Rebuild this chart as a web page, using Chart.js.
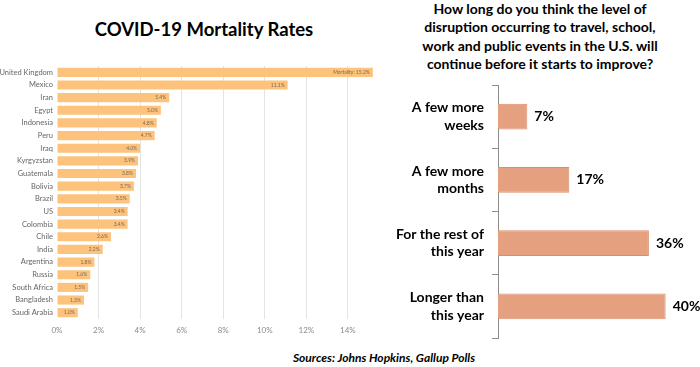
<!DOCTYPE html>
<html>
<head>
<meta charset="utf-8">
<script src="https://cdn.jsdelivr.net/npm/chart.js@4.4.1/dist/chart.umd.min.js"></script>
<style>
  body { margin: 0; background: #fff; width: 700px; height: 367px; overflow: hidden; position: relative; font-family: Lato, sans-serif; }
  .box { position: absolute; }
  #leftTitle { left: 0; top: 18px; width: 408px; text-align: center; font: bold 18.5px Lato, sans-serif; color: #000; }
  #rightTitle { left: 380px; top: 0; width: 320px; text-align: center; font: bold 14px Lato, sans-serif; line-height: 18.3px; color: #000; }
  #footer { left: 0; top: 350px; width: 768px; text-align: center; font: italic bold 12px Lato, sans-serif; color: #000; }
</style>
</head>
<body>
<div class="box" id="leftTitle">COVID-19 Mortality Rates</div>
<div class="box" id="rightTitle">How long do you think the level of<br>disruption occurring to travel, school,<br>work and public events in the U.S. will<br>continue before it starts to improve?</div>
<div class="box" style="left:0;top:60px;width:385px;height:285px"><canvas id="mortality"></canvas></div>
<div class="box" style="left:390px;top:80px;width:310px;height:265px"><canvas id="poll"></canvas></div>
<div class="box" id="footer">Sources: Johns Hopkins, Gallup Polls</div>
<script>
const countries = ["United Kingdom", "Mexico", "Iran", "Egypt", "Indonesia", "Peru", "Iraq",
  "Kyrgyzstan", "Guatemala", "Bolivia", "Brazil", "US", "Colombia", "Chile", "India",
  "Argentina", "Russia", "South Africa", "Bangladesh", "Saudi Arabia"];
const mortality = [15.2, 11.1, 5.4, 5.0, 4.8, 4.7, 4.0, 3.9, 3.8, 3.7, 3.5, 3.4, 3.4, 2.6,
  2.2, 1.8, 1.6, 1.5, 1.3, 1.0];
const mortalityTicks = [0, 2, 4, 6, 8, 10, 12, 14];

const answers = [["A few more", "weeks"], ["A few more", "months"],
  ["For the rest of", "this year"], ["Longer than", "this year"]];
const shares = [7, 17, 36, 40];

// small value labels drawn at the end of each bar
const barLabels = {
  id: "barLabels",
  afterDatasetsDraw(chart, args, opts) {
    const ctx = chart.ctx;
    const meta = chart.getDatasetMeta(0);
    ctx.save();
    ctx.font = opts.font;
    ctx.fillStyle = opts.color;
    ctx.textBaseline = "middle";
    ctx.textAlign = opts.inside ? "right" : "left";
    meta.data.forEach((bar, i) => {
      const text = opts.format(chart.data.datasets[0].data[i], i);
      const x = opts.inside ? bar.x - 3 : bar.x + 7;
      ctx.fillText(text, x, bar.y);
    });
    ctx.restore();
  },
};

new Chart(document.getElementById("mortality"), {
  type: "bar",
  data: {
    labels: countries,
    datasets: [{
      data: mortality,
      backgroundColor: "#fdc27c",
      barPercentage: 0.72,
      categoryPercentage: 1,
    }],
  },
  plugins: [barLabels],
  options: {
    indexAxis: "y",
    responsive: true,
    maintainAspectRatio: false,
    animation: false,
    layout: { padding: { top: 6, right: 8, bottom: 6, left: 0 } },
    plugins: {
      legend: { display: false },
      tooltip: { enabled: false },
      barLabels: {
        inside: true,
        font: "5px Lato, sans-serif",
        color: "#7a6a55",
        format: (v, i) => (i === 0 ? "Mortality: " : "") + v.toFixed(1) + "%",
      },
    },
    scales: {
      x: {
        min: 0,
        max: 15.4,
        afterBuildTicks: (axis) => {
          axis.ticks = mortalityTicks.map((v) => ({ value: v }));
        },
        afterFit: (axis) => { axis.height = 20; },
        border: { display: false },
        grid: { color: (c) => (c.tick && c.tick.value === 0 ? "rgba(0,0,0,0)" : "#e3e3e3"), drawTicks: false },
        ticks: {
          padding: 7,
          color: "#8c8c8c",
          font: { family: "Lato", size: 8 },
          callback: (v) => v + "%",
        },
      },
      y: {
        afterFit: (axis) => {
          axis.width = 57;
          axis.paddingTop = 0;
          axis.paddingBottom = 0;
        },
        border: { display: false },
        grid: { display: false, drawTicks: false },
        ticks: {
          padding: 4,
          color: "#666",
          font: { family: "Lato", size: 7.5 },
          autoSkip: false,
        },
      },
    },
  },
});

new Chart(document.getElementById("poll"), {
  type: "bar",
  data: {
    labels: answers,
    datasets: [{
      data: shares,
      backgroundColor: "#e5a07f",
      borderColor: "#d98f6c",
      borderWidth: 1,
      barPercentage: 0.41,
      categoryPercentage: 1,
    }],
  },
  plugins: [barLabels],
  options: {
    indexAxis: "y",
    responsive: true,
    maintainAspectRatio: false,
    animation: false,
    layout: { padding: { top: 5, right: 5, bottom: 7, left: 0 } },
    plugins: {
      legend: { display: false },
      tooltip: { enabled: false },
      barLabels: {
        inside: false,
        font: "bold 14px Lato, sans-serif",
        color: "#000",
        format: (v) => v + "%",
      },
    },
    scales: {
      x: { display: false, min: 0, max: 47 },
      y: {
        afterFit: (axis) => {
          axis.width = 108;
          axis.paddingTop = 0;
          axis.paddingBottom = 0;
        },
        border: { display: true, color: "#8c8c8c", width: 1 },
        grid: { drawOnChartArea: false, drawTicks: true, tickLength: 6, color: "#8c8c8c", offset: true },
        ticks: {
          padding: 8,
          color: "#000",
          font: { family: "Lato", size: 14, weight: "bold", lineHeight: 1.25 },
          autoSkip: false,
        },
      },
    },
  },
});
</script>
</body>
</html>
